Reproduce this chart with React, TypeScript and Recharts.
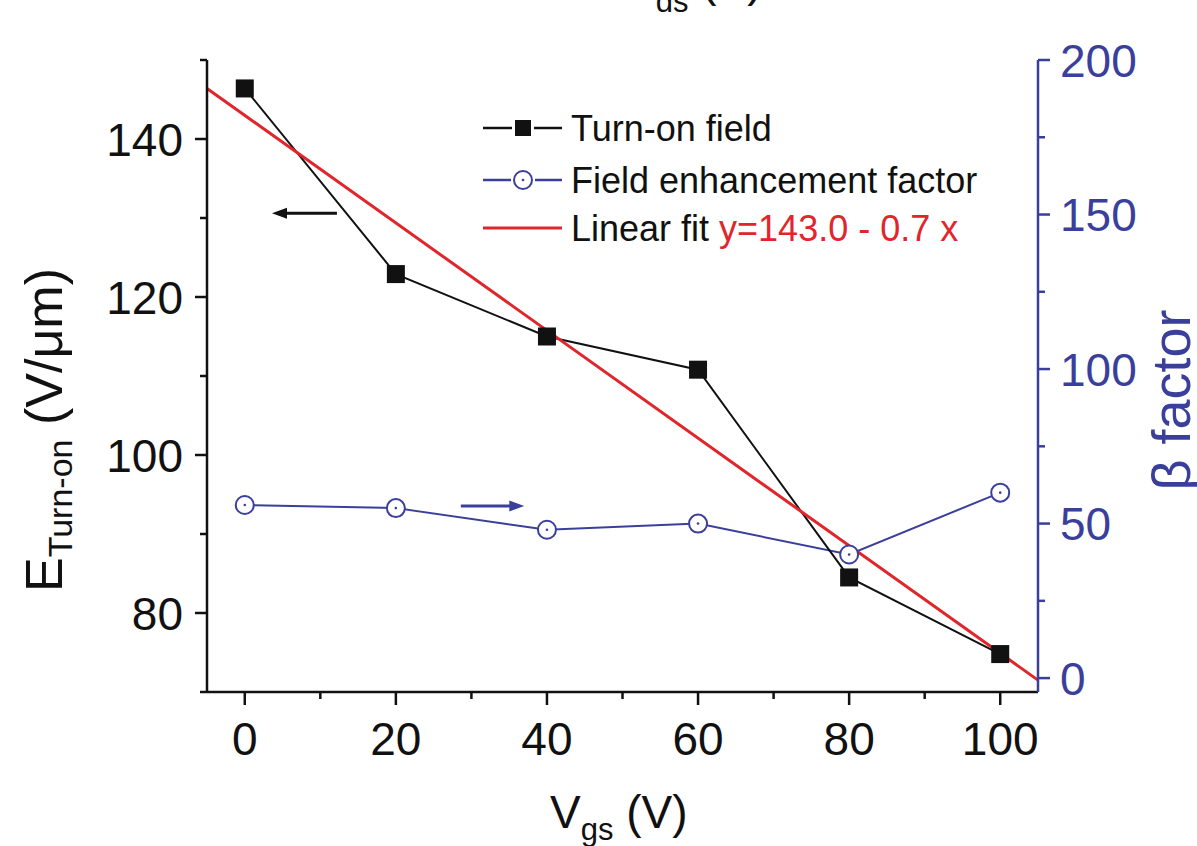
import { ComposedChart, Legend, Line, ReferenceLine, XAxis, YAxis } from "recharts";

// V_gs (V)
const gateVoltage = [0, 20, 40, 60, 80, 100];
// E turn-on (V/um), left axis
const turnOnField = [146.4, 122.9, 115.0, 110.8, 84.5, 74.8];
// beta factor, right axis
const betaFactor = [56, 55, 48, 50, 40, 60];
// linear fit y = 143.0 - 0.7x, ends read at the frame edges
const fitX = [-5, 105];
const fitY = [146.4, 71.5];

const xTicks = [0, 10, 20, 30, 40, 50, 60, 70, 80, 90, 100];
const xLabels = [0, 20, 40, 60, 80, 100];
const leftTicks = [70, 80, 90, 100, 110, 120, 130, 140, 150];
const leftLabels = [80, 100, 120, 140];
const rightTicks = [0, 25, 50, 75, 100, 125, 150, 175, 200];
const rightLabels = [0, 50, 100, 150, 200];

const rows = gateVoltage.map((x, i) => ({ x, field: turnOnField[i], beta: betaFactor[i] }));
const fitRows = fitX.map((x, i) => ({ x, fit: fitY[i] }));

const FONT = '"Liberation Sans", Arial, Helvetica, sans-serif';
const BLACK = "#111111";
const BLUE = "#3a3f9c";
const RED = "#e0262b";

function BottomTick(p: any) {
  const v = p.payload.value;
  const major = xLabels.includes(v);
  return (
    <g>
      <line x1={p.x} y1={p.y} x2={p.x} y2={p.y + (major ? 13 : 7)} stroke={BLACK} strokeWidth={2.5} />
      {major && (
        <text x={p.x} y={p.y + 63} textAnchor="middle" fontSize={46} fontFamily={FONT} fill={BLACK}>
          {v}
        </text>
      )}
    </g>
  );
}

function TopTick(p: any) {
  const major = xLabels.includes(p.payload.value);
  return <line x1={p.x} y1={p.y} x2={p.x} y2={p.y + (major ? 13 : 7)} stroke={BLACK} strokeWidth={2.5} />;
}

function LeftTick(p: any) {
  const v = p.payload.value;
  const major = leftLabels.includes(v);
  return (
    <g>
      <line x1={p.x - (major ? 12 : 7)} y1={p.y} x2={p.x} y2={p.y} stroke={BLACK} strokeWidth={2.5} />
      {major && (
        <text x={p.x - 24} y={p.y} dy="0.36em" textAnchor="end" fontSize={46} fontFamily={FONT} fill={BLACK}>
          {v}
        </text>
      )}
    </g>
  );
}

function RightTick(p: any) {
  const v = p.payload.value;
  const major = rightLabels.includes(v);
  return (
    <g>
      <line x1={p.x} y1={p.y} x2={p.x + (major ? 12 : 7)} y2={p.y} stroke={BLUE} strokeWidth={2.5} />
      {major && (
        <text x={p.x + 22} y={p.y} dy="0.36em" textAnchor="start" fontSize={46} fontFamily={FONT} fill={BLUE}>
          {v}
        </text>
      )}
    </g>
  );
}

function SquareDot(p: any) {
  if (p.cx == null) return <g key={p.index} />;
  return <rect key={p.index} x={p.cx - 9} y={p.cy - 9} width={18} height={18} fill={BLACK} />;
}

function RingDot(p: any) {
  if (p.cx == null) return <g key={p.index} />;
  return (
    <g key={p.index}>
      <circle cx={p.cx} cy={p.cy} r={9} fill="#fff" stroke={BLUE} strokeWidth={2} />
      <circle cx={p.cx} cy={p.cy} r={1.3} fill={BLUE} />
    </g>
  );
}

function Arrow(p: any) {
  const dir = Math.sign(p.x2 - p.x1);
  const c = p.color;
  return (
    <g>
      <line x1={p.x1} y1={p.y1} x2={p.x2 - dir * 8} y2={p.y2} stroke={c} strokeWidth={3} />
      <polygon points={`${p.x2},${p.y2} ${p.x2 - dir * 15},${p.y2 - 5.5} ${p.x2 - dir * 15},${p.y2 + 5.5}`} fill={c} />
    </g>
  );
}

function LegendBox() {
  const t = { fontSize: 36, fontFamily: FONT, fill: BLACK } as const;
  return (
    <svg width={560} height={150}>
      <line x1={5} y1={28} x2={34} y2={28} stroke={BLACK} strokeWidth={2.5} />
      <line x1={56} y1={28} x2={84} y2={28} stroke={BLACK} strokeWidth={2.5} />
      <rect x={37} y={20} width={16} height={16} fill={BLACK} />
      <text x={93} y={28} dy="0.36em" {...t}>Turn-on field</text>

      <line x1={5} y1={80} x2={33} y2={80} stroke={BLUE} strokeWidth={2.5} />
      <line x1={57} y1={80} x2={84} y2={80} stroke={BLUE} strokeWidth={2.5} />
      <circle cx={45} cy={80} r={9} fill="#fff" stroke={BLUE} strokeWidth={2} />
      <circle cx={45} cy={80} r={1.3} fill={BLUE} />
      <text x={93} y={80} dy="0.36em" {...t}>Field enhancement factor</text>

      <line x1={5} y1={128} x2={84} y2={128} stroke={RED} strokeWidth={3} />
      <text x={93} y={128} dy="0.36em" {...t}>
        Linear fit <tspan fill={RED}>y=143.0 - 0.7 x</tspan>
      </text>
    </svg>
  );
}

export default function App() {
  return (
    <div style={{ position: "absolute", left: 0, top: 0, width: 1197, height: 846, background: "#fff" }}>
      <ComposedChart width={1197} height={846} data={rows} margin={{ top: 60, right: 0, bottom: 0, left: 0 }}>
        <XAxis
          xAxisId="top"
          orientation="top"
          type="number"
          dataKey="x"
          domain={[-5, 105]}
          ticks={xTicks}
          interval={0}
          height={0}
          tickSize={0}
          tickMargin={0}
          tickLine={false}
          axisLine={{ stroke: BLACK, strokeWidth: 2.5 }}
          tick={(p: any) => <TopTick {...p} />}
        />
        <XAxis
          type="number"
          dataKey="x"
          domain={[-5, 105]}
          ticks={xTicks}
          interval={0}
          height={154}
          tickSize={0}
          tickMargin={0}
          tickLine={false}
          axisLine={{ stroke: BLACK, strokeWidth: 2.5 }}
          tick={(p: any) => <BottomTick {...p} />}
        />
        <YAxis
          yAxisId="left"
          type="number"
          domain={[70, 150]}
          ticks={leftTicks}
          interval={0}
          width={207}
          tickSize={0}
          tickMargin={0}
          tickLine={false}
          axisLine={{ stroke: BLACK, strokeWidth: 2.5 }}
          tick={(p: any) => <LeftTick {...p} />}
        />
        <YAxis
          yAxisId="right"
          orientation="right"
          type="number"
          domain={[-4.5, 200]}
          ticks={rightTicks}
          interval={0}
          width={159}
          tickSize={0}
          tickMargin={0}
          tickLine={false}
          axisLine={{ stroke: BLUE, strokeWidth: 2.5 }}
          tick={(p: any) => <RightTick {...p} />}
        />
        <Legend
          layout="vertical"
          align="center"
          verticalAlign="middle"
          content={() => <LegendBox />}
          wrapperStyle={{ position: "absolute", left: 478, top: 100, width: 560, height: 150 }}
        />
        <ReferenceLine
          yAxisId="left"
          segment={[{ x: 12.2, y: 130.6 }, { x: 3.6, y: 130.6 }]}
          shape={(p: any) => <Arrow {...p} color={BLACK} />}
        />
        <ReferenceLine
          yAxisId="right"
          segment={[{ x: 28.6, y: 55.7 }, { x: 37, y: 55.7 }]}
          shape={(p: any) => <Arrow {...p} color={BLUE} />}
        />
        <Line
          yAxisId="right"
          type="linear"
          dataKey="beta"
          stroke={BLUE}
          strokeWidth={2}
          dot={(p: any) => <RingDot {...p} />}
          activeDot={false}
          isAnimationActive={false}
        />
        <Line
          yAxisId="left"
          type="linear"
          dataKey="field"
          stroke={BLACK}
          strokeWidth={2}
          dot={(p: any) => <SquareDot {...p} />}
          activeDot={false}
          isAnimationActive={false}
        />
        <Line
          yAxisId="left"
          type="linear"
          data={fitRows}
          dataKey="fit"
          stroke={RED}
          strokeWidth={3}
          dot={false}
          activeDot={false}
          isAnimationActive={false}
        />
      </ComposedChart>

      <svg
        width={1197}
        height={846}
        style={{ position: "absolute", left: 0, top: 0, pointerEvents: "none" }}
        fontFamily={FONT}
      >
        {/* top title, cut off by the page edge as in the source figure */}
        <text x={625} y={-4} fontSize={46} fill={BLACK}>
          V<tspan fontSize={31} dy={16}>ds</tspan>
          <tspan dy={-16}> (V)</tspan>
        </text>
        {/* bottom title */}
        <text x={550} y={828} fontSize={46} fill={BLACK}>
          V<tspan fontSize={31} dy={12}>gs</tspan>
          <tspan dy={-12}> (V)</tspan>
        </text>
        {/* left title */}
        <text transform="translate(62,592) rotate(-90)" fontSize={52} fill={BLACK}>
          E<tspan fontSize={34} dy={10}>Turn-on</tspan>
          <tspan dy={-10}> (V/μm)</tspan>
        </text>
        {/* right title */}
        <text transform="translate(1190,400) rotate(-90)" textAnchor="middle" fontSize={54} fill={BLUE}>
          β factor
        </text>
      </svg>
    </div>
  );
}
